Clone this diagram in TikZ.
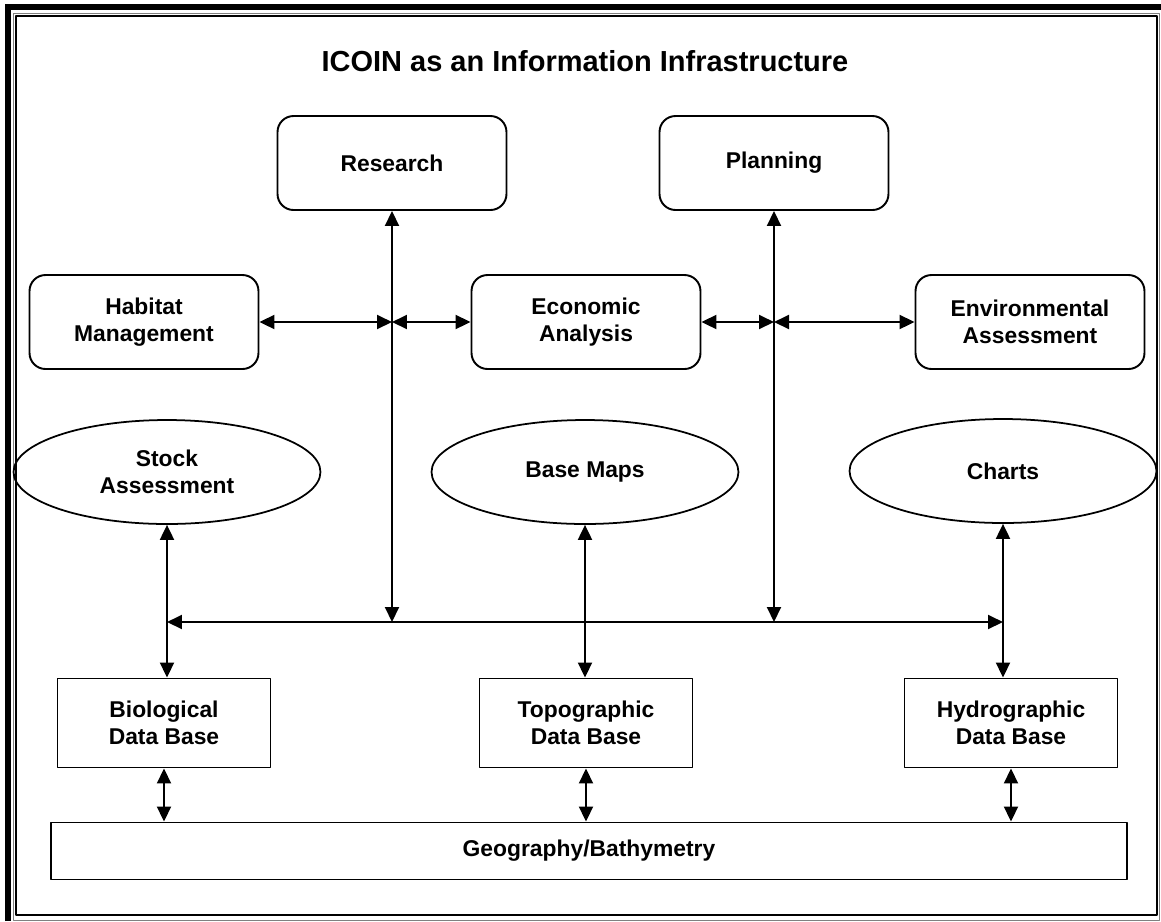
\documentclass[tikz,border=0pt]{standalone}
\usepackage{fontspec}
\setmainfont{Liberation Sans}
\usetikzlibrary{shapes.geometric,arrows.meta}
\begin{document}
\begin{tikzpicture}[x=0.02cm, y=-0.02cm, font=\fontsize{13}{15.5}\selectfont\bfseries, line join=round, line cap=round, >={Triangle[length=0.3cm,width=0.28cm]},
	rbox/.style={draw, line width=1.1pt, rounded corners=0.32cm, minimum width=4.58cm, minimum height=1.88cm, align=center, inner sep=0pt},
	dbox/.style={draw, line width=1.1pt, minimum width=4.26cm, minimum height=1.78cm, align=center, inner sep=0pt},
	oval/.style={draw, ellipse, line width=1pt, minimum width=6.14cm, minimum height=2.08cm, align=center, inner sep=0pt},
	link/.style={<->, line width=1.1pt}]
	\useasboundingbox (0,0) rectangle (1161,921);
	% Khung
	\draw[line width=0.12cm, line join=miter, line cap=butt] (8,921)--(8,7)--(1161,7);
	\draw[line width=0.5pt, gray] (13,13) rectangle (1159,920);
	\draw[line width=0.04cm] (16,16) rectangle (1157,915);
	\node (title) at (585,61) {\fontsize{16.5}{19}\selectfont ICOIN as an Information Infrastructure};
	\node[rbox] (research) at (392,163) {Research};
	\node[rbox] (planning) at (774,163) {Planning};
	\node[rbox] (habitat) at (144,322) {Habitat\\Management};
	\node[rbox] (economic) at (586,322) {Economic\\Analysis};
	\node[rbox] (environmental) at (1030,322) {Environmental\\Assessment};
	\node[oval] (stock) at (167,472) {Stock\\Assessment};
	\node[oval] (basemaps) at (585,472) {Base Maps};
	\node[oval] (charts) at (1003,471) {Charts};
	\node[dbox] (biological) at (164,723) {Biological\\Data Base};
	\node[dbox] (topographic) at (586,723) {Topographic\\Data Base};
	\node[dbox] (hydrographic) at (1011,723) {Hydrographic\\Data Base};
	\node[draw, line width=1.1pt, minimum width=21.52cm, minimum height=1.14cm, inner sep=0pt] (geography) at (589,851) {Geography/Bathymetry};
	\coordinate (bus) at (0,622);
	\coordinate (rj) at (research |- habitat);
	\coordinate (pj) at (planning |- economic);
	\draw[link] (research)--(research |- bus);
	\draw[link] (planning)--(planning |- bus);
	\draw[link] (habitat)--(rj);
	\draw[link] (rj)--(economic);
	\draw[link] (economic)--(pj);
	\draw[link] (pj)--(environmental);
	\draw[link] (stock)--(stock |- biological.north);
	\draw[link] (basemaps)--(basemaps |- topographic.north);
	\draw[link] (charts)--(charts |- hydrographic.north);
	\draw[link] (stock |- bus)--(charts |- bus);
	\draw[link] (biological)--(biological |- geography.north);
	\draw[link] (topographic)--(topographic |- geography.north);
	\draw[link] (hydrographic)--(hydrographic |- geography.north);
\end{tikzpicture}
\end{document}
